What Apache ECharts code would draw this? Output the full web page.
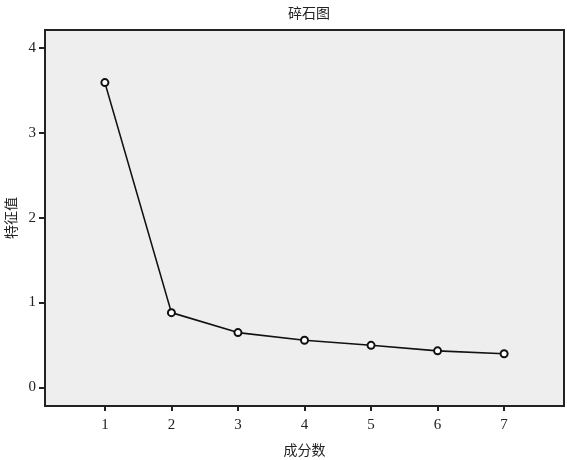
<!DOCTYPE html>
<html>
<head>
<meta charset="utf-8">
<script src="https://cdn.jsdelivr.net/npm/echarts@6/dist/echarts.min.js"></script>
<style>
  html, body { margin: 0; padding: 0; background: #fff; }
  #chart { width: 567px; height: 460px; }
</style>
</head>
<body>
<div id="chart"></div>
<script>
  // 成分数 与 特征值
  const components = [1, 2, 3, 4, 5, 6, 7];
  const eigenvalues = [3.59, 0.88, 0.645, 0.555, 0.495, 0.43, 0.395];
  const yTicks = [0, 1, 2, 3, 4];

  const chart = echarts.init(document.getElementById('chart'));
  const serif = '"Liberation Serif", "Times New Roman", serif';
  const cjk = '"Noto Sans CJK SC", sans-serif';

  chart.setOption({
    animation: false,
    title: {
      text: '碎石图',
      left: 304,
      top: 1,
      textAlign: 'center',
      textStyle: { fontFamily: cjk, fontSize: 14, fontWeight: 'normal', color: '#222' }
    },
    grid: {
      left: 45, right: 3, top: 30, bottom: 54,
      outerBoundsMode: 'none',
      containLabel: false,
      show: true,
      backgroundColor: '#eeeeee',
      borderColor: '#222',
      borderWidth: 2
    },
    xAxis: {
      type: 'value',
      min: 0.1,
      max: 7.9,
      name: '成分数',
      nameLocation: 'middle',
      nameGap: 37,
      nameTextStyle: { fontFamily: cjk, fontSize: 14, color: '#222' },
      axisLine: { show: false, onZero: false },
      splitLine: { show: false },
      axisTick: {
        show: true, length: 5, inside: false,
        customValues: components,
        lineStyle: { color: '#222', width: 2 }
      },
      axisLabel: {
        customValues: components,
        margin: 12,
        fontFamily: serif, fontSize: 15, color: '#222'
      }
    },
    yAxis: {
      type: 'value',
      min: -0.22,
      max: 4.21,
      name: '特征值',
      nameLocation: 'middle',
      nameGap: 26,
      nameRotate: 90,
      nameTextStyle: { fontFamily: cjk, fontSize: 14, color: '#222' },
      axisLine: { show: false, onZero: false },
      splitLine: { show: false },
      axisTick: {
        show: true, length: 6, inside: false,
        customValues: yTicks,
        lineStyle: { color: '#222', width: 2 }
      },
      axisLabel: {
        customValues: yTicks,
        margin: 9,
        fontFamily: serif, fontSize: 15, color: '#222'
      }
    },
    series: [{
      type: 'line',
      data: components.map((c, i) => [c, eigenvalues[i]]),
      symbol: 'emptyCircle',
      symbolSize: 7,
      lineStyle: { color: '#111', width: 1.6 },
      itemStyle: { color: '#111', borderColor: '#111', borderWidth: 1.5 }
    }]
  });
</script>
</body>
</html>
